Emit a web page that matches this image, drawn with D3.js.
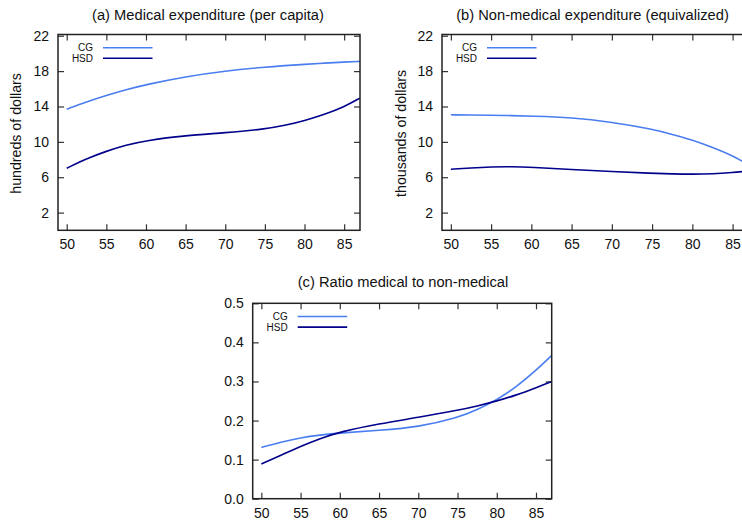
<!DOCTYPE html>
<html><head><meta charset="utf-8">
<script src="https://cdn.jsdelivr.net/npm/d3@7/dist/d3.min.js"></script>
<style>body{margin:0;background:#fff;} svg{display:block;} text{font-family:"Liberation Sans",Arial,sans-serif;fill:#111;}</style>
</head><body><svg id="c" width="742" height="520"></svg>
<script>
const ages = [50,52.5,55,57.5,60,65,70,75,77.5,80,82.5,85,87];
const xTicks = [50,55,60,65,70,75,80,85];
const seriesNames = ["CG","HSD"];
const medCG = [13.70,14.52,15.25,15.9,16.47,17.38,18.02,18.45,18.62,18.77,18.9,19.02,19.1];
const medHSD = [7.02,8.1,8.95,9.65,10.15,10.72,11.02,11.45,11.85,12.4,13.1,13.96,14.95];
const nonmedCG = [13.06,13.04,13.02,12.97,12.92,12.76,12.24,11.45,10.85,10.2,9.38,8.44,7.4];
const nonmedHSD = [6.9,7.06,7.17,7.2,7.13,6.87,6.64,6.45,6.38,6.34,6.38,6.53,6.7];
const ratioCG = [0.131,0.145,0.156,0.163,0.168,0.175,0.183,0.207,0.227,0.253,0.286,0.328,0.367];
const ratioHSD = [0.089,0.111,0.134,0.154,0.171,0.192,0.208,0.226,0.237,0.25,0.265,0.284,0.300];
const yTicksAB = [2,6,10,14,18,22];
const yTicksC = [0.0,0.1,0.2,0.3,0.4,0.5];
const titles = ["(a) Medical expenditure (per capita)","(b) Non-medical expenditure (equivalized)","(c) Ratio medical to non-medical"];
const yLabels = ["hundreds of dollars","thousands of dollars",null];

const colors = {CG:"#4a7ef0", HSD:"#00008b"};
const svg = d3.select("#c");

const panels = [
  {box:[58,360,34.5,230.3], ydom:[0,22.14], yt:yTicksAB, fmt:d3.format("d"), s:[medCG,medHSD], title:titles[0], tx:208, ty:20, yl:yLabels[0], ylx:20.5},
  {box:[442,748.7,34.5,230.3], ydom:[0,22.14], yt:yTicksAB, fmt:d3.format("d"), s:[nonmedCG,nonmedHSD], title:titles[1], tx:592.5, ty:20, yl:yLabels[1], ylx:406},
  {box:[252.7,551.7,303.3,498.7], ydom:[0,0.5], yt:yTicksC, fmt:d3.format(".1f"), s:[ratioCG,ratioHSD], title:titles[2], tx:403, ty:286.5, yl:null}
];

panels.forEach((p,i)=>{
  const [l,r,t,b] = p.box;
  const x = d3.scaleLinear().domain([48.9,87]).range([l,r]);
  const y = d3.scaleLinear().domain(p.ydom).range([b,t]);
  const g = svg.append("g");
  const cid = "clip"+i;
  g.append("clipPath").attr("id",cid).append("rect").attr("x",l).attr("y",t).attr("width",r-l).attr("height",b-t);
  const tl = 6;
  const axB = d3.axisBottom(x).tickValues(xTicks).tickSizeInner(-tl).tickSizeOuter(0).tickPadding(9);
  const axT = d3.axisTop(x).tickValues(xTicks).tickSizeInner(-tl).tickSizeOuter(0).tickFormat("");
  const axL = d3.axisLeft(y).tickValues(p.yt).tickSizeInner(-tl).tickSizeOuter(0).tickPadding(9).tickFormat(p.fmt);
  const axR = d3.axisRight(y).tickValues(p.yt).tickSizeInner(-tl).tickSizeOuter(0).tickFormat("");
  const style = sel => { sel.select(".domain").remove(); sel.selectAll("line").attr("stroke","#333").attr("stroke-width",1.2); sel.selectAll("text").attr("font-size",14).attr("fill","#111").attr("font-family","Liberation Sans, Arial, sans-serif"); };
  g.append("g").attr("transform",`translate(0,${b})`).call(axB).call(style).selectAll("text").attr("dy","0.71em");
  g.append("g").attr("transform",`translate(0,${t})`).call(axT).call(style);
  g.append("g").attr("transform",`translate(${l},0)`).call(axL).call(style);
  g.append("g").attr("transform",`translate(${r},0)`).call(axR).call(style);
  const line = d3.line().x((d,j)=>x(ages[j])).y(d=>y(d)).curve(d3.curveBasis);
  p.s.forEach((vals,k)=>{
    g.append("path").attr("clip-path",`url(#${cid})`).attr("d",line(vals)).attr("fill","none")
      .attr("stroke",colors[seriesNames[k]]).attr("stroke-width",1.6);
  });
  g.append("rect").attr("x",l).attr("y",t).attr("width",r-l).attr("height",b-t).attr("fill","none").attr("stroke","#222").attr("stroke-width",1.5);
  seriesNames.forEach((n,k)=>{
    const ly = t + 13.2 + k*10.6;
    g.append("text").attr("x",l+35).attr("y",ly).attr("dy","0.35em").attr("text-anchor","end").attr("font-size",10).text(n);
    g.append("line").attr("x1",l+45).attr("x2",l+94.5).attr("y1",ly).attr("y2",ly).attr("stroke",colors[n]).attr("stroke-width",1.6);
  });
  svg.append("text").attr("x",p.tx).attr("y",p.ty).attr("text-anchor","middle").attr("font-size",14.7).text(p.title);
  if (p.yl) {
    svg.append("text").attr("transform",`translate(${p.ylx},${(t+b)/2+1}) rotate(-90)`).attr("text-anchor","middle").attr("font-size",14.2).text(p.yl);
  }
});
</script></body></html>
